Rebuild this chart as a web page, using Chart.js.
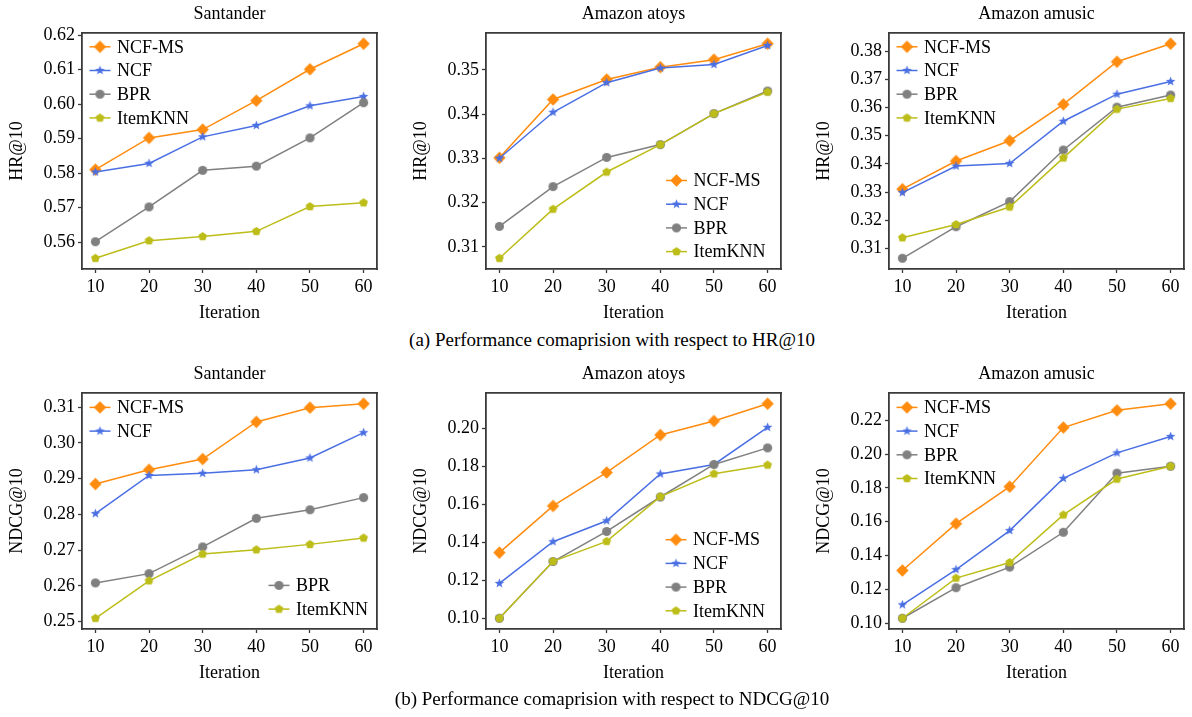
<!DOCTYPE html>
<html>
<head>
<meta charset="utf-8">
<script src="https://cdn.jsdelivr.net/npm/chart.js@4.4.1/dist/chart.umd.min.js"></script>
<style>
  body { margin: 0; background: #fff; width: 1192px; height: 717px; position: relative; overflow: hidden; }
  canvas { position: absolute; }
  .caption { position: absolute; left: 0; width: 1224px; text-align: center; font: 19px "Liberation Serif", serif; color: #000; line-height: 20px; }
</style>
</head>
<body>
<canvas id="c0" width="385" height="329" style="left:0px;top:0px"></canvas>
<canvas id="c1" width="385" height="329" style="left:404px;top:0px"></canvas>
<canvas id="c2" width="385" height="329" style="left:807px;top:0px"></canvas>
<canvas id="c3" width="385" height="329" style="left:0px;top:360px"></canvas>
<canvas id="c4" width="385" height="329" style="left:404px;top:360px"></canvas>
<canvas id="c5" width="385" height="329" style="left:807px;top:360px"></canvas>
<div class="caption" style="top:330px">(a) Performance comaprision with respect to HR@10</div>
<div class="caption" style="top:689px">(b) Performance comaprision with respect to NDCG@10</div>
<script>
// x values and series names
const iterations = [10, 20, 30, 40, 50, 60];
const seriesNames = ['NCF-MS', 'NCF', 'BPR', 'ItemKNN'];

// HR@10 - Santander
const hrSanNcfMs = [0.5810, 0.5902, 0.5926, 0.6010, 0.6101, 0.6175];
const hrSanNcf   = [0.5803, 0.5828, 0.5905, 0.5938, 0.5995, 0.6022];
const hrSanBpr   = [0.5601, 0.5702, 0.5808, 0.5820, 0.5902, 0.6004];
const hrSanKnn   = [0.5553, 0.5604, 0.5616, 0.5631, 0.5703, 0.5714];
// HR@10 - Amazon atoys
const hrToyNcfMs = [0.3301, 0.3433, 0.3478, 0.3506, 0.3523, 0.3559];
const hrToyNcf   = [0.3300, 0.3404, 0.3471, 0.3504, 0.3512, 0.3555];
const hrToyBpr   = [0.3146, 0.3236, 0.3302, 0.3331, 0.3401, 0.3452];
const hrToyKnn   = [0.3074, 0.3185, 0.3269, 0.3331, 0.3401, 0.3450];
// HR@10 - Amazon amusic
const hrMusNcfMs = [0.3310, 0.3410, 0.3482, 0.3611, 0.3762, 0.3826];
const hrMusNcf   = [0.3298, 0.3392, 0.3401, 0.3551, 0.3647, 0.3692];
const hrMusBpr   = [0.3065, 0.3177, 0.3266, 0.3449, 0.3601, 0.3644];
const hrMusKnn   = [0.3138, 0.3185, 0.3247, 0.3421, 0.3594, 0.3632];
// NDCG@10 - Santander
const ndSanNcfMs = [0.2885, 0.2925, 0.2955, 0.3059, 0.3099, 0.3110];
const ndSanNcf   = [0.2802, 0.2909, 0.2915, 0.2925, 0.2958, 0.3029];
const ndSanBpr   = [0.2608, 0.2634, 0.2709, 0.2789, 0.2813, 0.2847];
const ndSanKnn   = [0.2509, 0.2614, 0.2689, 0.2701, 0.2716, 0.2734];
// NDCG@10 - Amazon atoys
const ndToyNcfMs = [0.1347, 0.1592, 0.1768, 0.1965, 0.2038, 0.2129];
const ndToyNcf   = [0.1185, 0.1404, 0.1514, 0.1760, 0.1810, 0.2005];
const ndToyBpr   = [0.1002, 0.1300, 0.1458, 0.1639, 0.1810, 0.1897];
const ndToyKnn   = [0.1002, 0.1301, 0.1406, 0.1641, 0.1761, 0.1807];
// NDCG@10 - Amazon amusic
const ndMusNcfMs = [0.1311, 0.1588, 0.1807, 0.2157, 0.2259, 0.2298];
const ndMusNcf   = [0.1108, 0.1316, 0.1547, 0.1856, 0.2007, 0.2104];
const ndMusBpr   = [0.1028, 0.1209, 0.1331, 0.1537, 0.1887, 0.1928];
const ndMusKnn   = [0.1028, 0.1266, 0.1358, 0.1640, 0.1852, 0.1928];

// y tick labels
const hrSanTicks = [0.56, 0.57, 0.58, 0.59, 0.60, 0.61, 0.62];
const hrToyTicks = [0.31, 0.32, 0.33, 0.34, 0.35];
const hrMusTicks = [0.31, 0.32, 0.33, 0.34, 0.35, 0.36, 0.37, 0.38];
const ndSanTicks = [0.25, 0.26, 0.27, 0.28, 0.29, 0.30, 0.31];
const ndToyTicks = [0.10, 0.12, 0.14, 0.16, 0.18, 0.20];
const ndMusTicks = [0.10, 0.12, 0.14, 0.16, 0.18, 0.20, 0.22];

const FONT = { family: '"Liberation Serif", "Times New Roman", serif', size: 18, lineHeight: 1.2 };
const FRAME = '#3a3a3a';
const colors = ['#ff8c0f', '#4a6fe3', '#808080', '#bdbd1a'];

// marker images (diamond, star, circle, pentagon)
function marker(shape, color) {
  const s = 15, c = document.createElement('canvas');
  c.width = s; c.height = s;
  const g = c.getContext('2d');
  const cx = s / 2, cy = s / 2;
  g.fillStyle = color;
  g.beginPath();
  if (shape === 'diamond') {
    const r = 6.2;
    g.moveTo(cx, cy - r); g.lineTo(cx + r, cy); g.lineTo(cx, cy + r); g.lineTo(cx - r, cy);
  } else if (shape === 'star') {
    const ro = 5, ri = 2.1;
    for (let i = 0; i < 10; i++) {
      const r = i % 2 ? ri : ro, a = -Math.PI / 2 + i * Math.PI / 5;
      g.lineTo(cx + r * Math.cos(a), cy + r * Math.sin(a));
    }
  } else if (shape === 'circle') {
    g.arc(cx, cy, 4.6, 0, Math.PI * 2);
  } else {
    const r = 4.6;
    for (let i = 0; i < 5; i++) {
      const a = -Math.PI / 2 + i * 2 * Math.PI / 5;
      g.lineTo(cx + r * Math.cos(a), cy + r * Math.sin(a));
    }
  }
  g.closePath();
  g.fill();
  return c;
}
const markers = [
  marker('diamond', colors[0]),
  marker('star', colors[1]),
  marker('circle', colors[2]),
  marker('pentagon', colors[3])
];

// legend drawn inside the plot area
const insideLegend = {
  id: 'insideLegend',
  afterDatasetsDraw(chart, args, opts) {
    const { ctx, chartArea } = chart;
    ctx.save();
    ctx.font = FONT.size + 'px ' + FONT.family;
    ctx.textBaseline = 'middle';
    ctx.fillStyle = '#000';
    opts.groups.forEach(g => {
      g.items.forEach((idx, k) => {
        const x0 = chartArea.left + g.x;
        const y = chartArea.top + g.y + k * opts.rowGap;
        ctx.strokeStyle = colors[idx];
        ctx.lineWidth = 1.5;
        ctx.beginPath();
        ctx.moveTo(x0, y); ctx.lineTo(x0 + 21, y);
        ctx.stroke();
        const m = markers[idx];
        ctx.drawImage(m, x0 + 10.5 - m.width / 2, y - m.height / 2);
        ctx.fillText(seriesNames[idx], x0 + 27.5, y + 1);
      });
    });
    ctx.restore();
  }
};

function panel(id, title, yTitle, series, yTicks, groups) {
  const all = series.flat();
  const lo = Math.min(...all), hi = Math.max(...all);
  const pad = (hi - lo) * 0.05;
  const datasets = series.map((vals, i) => ({
    label: seriesNames[i],
    data: iterations.map((x, j) => ({ x: x, y: vals[j] })),
    borderColor: colors[i],
    backgroundColor: colors[i],
    borderWidth: 1.5,
    pointStyle: markers[i],
    pointRadius: 5,
    pointHoverRadius: 5,
    order: 3 - i,
    tension: 0
  }));
  const edge = { display: true, color: FRAME, width: 1.8 };
  new Chart(document.getElementById(id), {
    type: 'line',
    data: { datasets },
    plugins: [insideLegend],
    options: {
      responsive: false,
      animation: false,
      layout: { padding: 0 },
      plugins: {
        legend: { display: false },
        tooltip: { enabled: false },
        insideLegend: { groups: groups, rowGap: 23.7 }
      },
      scales: {
        x: {
          type: 'linear', position: 'bottom', min: 7.5, max: 62.5,
          afterBuildTicks: ax => { ax.ticks = iterations.map(v => ({ value: v })); },
          ticks: { font: FONT, color: '#000', padding: 3, maxRotation: 0 },
          grid: { display: true, drawOnChartArea: false, drawTicks: true, tickLength: 4, tickColor: FRAME, tickWidth: 1.3 },
          border: edge,
          title: { display: true, text: 'Iteration', font: FONT, color: '#000', padding: { top: 0, bottom: 5 } },
          afterFit: ax => { ax.height = 60; }
        },
        xTop: {
          type: 'linear', position: 'top', min: 7.5, max: 62.5,
          ticks: { display: false },
          grid: { display: true, drawOnChartArea: false, drawTicks: false },
          border: edge,
          title: { display: true, text: title, font: FONT, color: '#000', padding: { top: 3, bottom: 0 } },
          afterFit: ax => { ax.height = 33; }
        },
        y: {
          type: 'linear', position: 'left', min: lo - pad, max: hi + pad,
          afterBuildTicks: ax => { ax.ticks = yTicks.map(v => ({ value: v })); },
          ticks: { font: FONT, color: '#000', padding: 3, callback: v => v.toFixed(2) },
          grid: { display: true, drawOnChartArea: false, drawTicks: true, tickLength: 4, tickColor: FRAME, tickWidth: 1.3 },
          border: edge,
          title: { display: true, text: yTitle, font: FONT, color: '#000', padding: { top: 6, bottom: 0 } },
          afterFit: ax => { ax.width = 82; }
        },
        yRight: {
          type: 'linear', position: 'right', min: lo - pad, max: hi + pad,
          ticks: { display: false },
          grid: { display: true, drawOnChartArea: false, drawTicks: false },
          border: edge,
          afterFit: ax => { ax.width = 8; }
        }
      }
    }
  });
}

const TL = { items: [0, 1, 2, 3], x: 7.5, y: 13.8 };
const BR = { items: [0, 1, 2, 3], x: 180, y: 147.5 };

panel('c0', 'Santander', 'HR@10', [hrSanNcfMs, hrSanNcf, hrSanBpr, hrSanKnn], hrSanTicks, [TL]);
panel('c1', 'Amazon atoys', 'HR@10', [hrToyNcfMs, hrToyNcf, hrToyBpr, hrToyKnn], hrToyTicks, [BR]);
panel('c2', 'Amazon amusic', 'HR@10', [hrMusNcfMs, hrMusNcf, hrMusBpr, hrMusKnn], hrMusTicks, [TL]);
panel('c3', 'Santander', 'NDCG@10', [ndSanNcfMs, ndSanNcf, ndSanBpr, ndSanKnn], ndSanTicks,
  [{ items: [0, 1], x: 7.5, y: 14.4 }, { items: [2, 3], x: 186.5, y: 192.4 }]);
panel('c4', 'Amazon atoys', 'NDCG@10', [ndToyNcfMs, ndToyNcf, ndToyBpr, ndToyKnn], ndToyTicks, [{ items: [0, 1, 2, 3], x: 179.5, y: 146.7 }]);
panel('c5', 'Amazon amusic', 'NDCG@10', [ndMusNcfMs, ndMusNcf, ndMusBpr, ndMusKnn], ndMusTicks, [{ items: [0, 1, 2, 3], x: 7.5, y: 14.4 }]);
</script>
</body>
</html>
